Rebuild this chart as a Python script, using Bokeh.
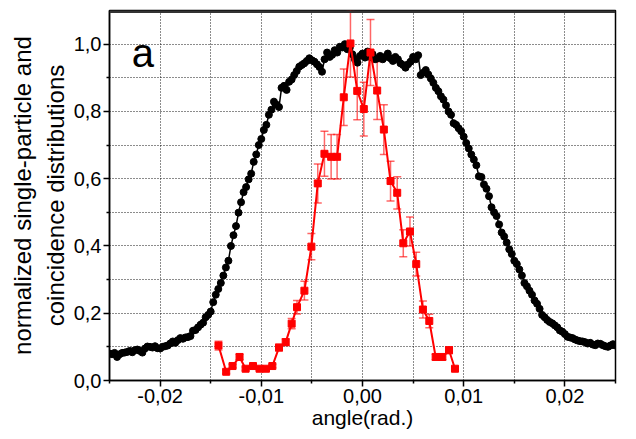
import numpy as np
from bokeh.plotting import figure
from bokeh.models import (Range1d, FixedTicker, CustomJSTickFormatter, Whisker,
                          TeeHead, ColumnDataSource, Label, Span)
from bokeh.embed import file_html
from bokeh.resources import INLINE

# ---- single-particle distribution (black), angle grid -0.025 .. 0.025 step 0.00025
single_y = [
    0.080, 0.078, 0.082, 0.070, 0.078, 0.082, 0.083, 0.085,
    0.088, 0.084, 0.090, 0.092, 0.088, 0.083, 0.095, 0.101,
    0.100, 0.098, 0.102, 0.096, 0.095, 0.100, 0.102, 0.104,
    0.110, 0.116, 0.112, 0.120, 0.126, 0.124, 0.128, 0.129,
    0.132, 0.148, 0.150, 0.158, 0.166, 0.172, 0.188, 0.195,
    0.205, 0.233, 0.255, 0.272, 0.290, 0.312, 0.336, 0.356,
    0.400, 0.432, 0.459, 0.499, 0.530, 0.560, 0.575, 0.598,
    0.615, 0.650, 0.672, 0.700, 0.718, 0.745, 0.760, 0.790,
    0.805, 0.829, 0.820, 0.813, 0.870, 0.876, 0.864, 0.888,
    0.895, 0.908, 0.920, 0.933, 0.938, 0.943, 0.950, 0.958,
    0.952, 0.948, 0.940, 0.932, 0.918, 0.955, 0.975, 0.962,
    0.968, 0.982, 0.975, 0.992, 0.990, 1.000, 0.985, 0.990,
    0.970, 0.955, 0.945, 0.965, 0.972, 0.960, 0.978, 0.962,
    0.970, 0.955, 0.958, 0.965, 0.955, 0.962, 0.972, 0.958,
    0.950, 0.962, 0.955, 0.943, 0.938, 0.930, 0.940, 0.948,
    0.962, 0.955, 0.967, 0.908, 0.915, 0.923, 0.910, 0.898,
    0.885, 0.870, 0.860, 0.845, 0.835, 0.818, 0.800, 0.790,
    0.765, 0.760, 0.750, 0.741, 0.725, 0.706, 0.690, 0.672,
    0.657, 0.640, 0.607, 0.605, 0.583, 0.570, 0.548, 0.515,
    0.500, 0.489, 0.464, 0.440, 0.428, 0.410, 0.390, 0.376,
    0.356, 0.346, 0.330, 0.312, 0.290, 0.280, 0.267, 0.255,
    0.238, 0.228, 0.213, 0.195, 0.188, 0.180, 0.174, 0.170,
    0.164, 0.158, 0.149, 0.145, 0.138, 0.130, 0.128, 0.126,
    0.122, 0.119, 0.117, 0.116, 0.114, 0.110, 0.112, 0.107,
    0.105, 0.110, 0.109, 0.105, 0.102, 0.100, 0.104, 0.108,
    0.104,
]
single_x = list(np.round(np.linspace(-0.025, 0.025, len(single_y)), 6))

# ---- coincidence distribution (red) with error bars
coinc_x = [-0.01423, -0.01347, -0.01284, -0.01215, -0.01155, -0.01082, -0.01017,
           -0.00954, -0.00891, -0.00825, -0.00759, -0.00700, -0.00647, -0.00574,
           -0.00505, -0.00442, -0.00376, -0.00310, -0.00251, -0.00185, -0.00119,
           -0.00052, 0.00013, 0.00079, 0.00145, 0.00211, 0.00277, 0.00343,
           0.00403, 0.00469, 0.00531, 0.00597, 0.00660, 0.00723, 0.00789,
           0.00855, 0.00914]
coinc_y = [0.104, 0.026, 0.043, 0.070, 0.035, 0.043, 0.035,
           0.035, 0.043, 0.098, 0.114, 0.169, 0.218, 0.267,
           0.398, 0.586, 0.674, 0.665, 0.665, 0.842, 1.002,
           0.861, 0.807, 0.975, 0.862, 0.746, 0.593, 0.558,
           0.408, 0.443, 0.346, 0.211, 0.177, 0.070, 0.070,
           0.090, 0.035]
coinc_err = [0.013, 0.005, 0.005, 0.008, 0.005, 0.005, 0.005,
             0.005, 0.005, 0.010, 0.010, 0.015, 0.020, 0.028,
             0.039, 0.058, 0.067, 0.066, 0.066, 0.084, 0.100,
             0.086, 0.080, 0.098, 0.086, 0.074, 0.059, 0.048,
             0.040, 0.043, 0.035, 0.025, 0.020, 0.008, 0.008,
             0.010, 0.006]

x_major = [-0.02, -0.01, 0.0, 0.01, 0.02]
x_minor = [-0.025, -0.015, -0.005, 0.005, 0.015, 0.025]
y_major = [0.0, 0.2, 0.4, 0.6, 0.8, 1.0]
y_minor = [0.1, 0.3, 0.5, 0.7, 0.9]
x_grid = [-0.025, -0.02, -0.015, -0.01, -0.005, 0.0, 0.005, 0.01, 0.015, 0.02, 0.025]
y_grid = [0.1, 0.2, 0.3, 0.4, 0.5, 0.6, 0.7, 0.8, 0.9, 1.0]

FONT = "Liberation Sans"

p = figure(width=628, height=431, output_backend="svg", toolbar_location=None,
           x_range=Range1d(-0.025, 0.025), y_range=Range1d(0.0, 1.1),
           min_border_left=109, min_border_right=13, min_border_top=10,
           min_border_bottom=10)
p.background_fill_color = "white"
p.border_fill_color = "white"
p.outline_line_color = "black"
p.outline_line_width = 1.5

# grids
p.xgrid.ticker = FixedTicker(ticks=x_grid)
p.ygrid.ticker = FixedTicker(ticks=y_grid)
for g in (p.xgrid, p.ygrid):
    g.grid_line_color = "black"
    g.grid_line_dash = "1 2"
    g.grid_line_width = 1
    g.grid_line_alpha = 0.9

# axes
p.xaxis.ticker = FixedTicker(ticks=x_major, minor_ticks=x_minor)
p.yaxis.ticker = FixedTicker(ticks=y_major, minor_ticks=y_minor)
p.xaxis.formatter = CustomJSTickFormatter(
    code="var s = tick.toFixed(2).replace('.', ','); return s == '-0,00' ? '0,00' : s;")
p.yaxis.formatter = CustomJSTickFormatter(
    code="return tick.toFixed(1).replace('.', ',');")
p.xaxis.axis_label = "angle(rad.)"
p.yaxis.axis_label = "normalized single-particle and\ncoincidence distributions"
for ax in (p.xaxis, p.yaxis):
    ax.axis_line_color = "black"
    ax.axis_line_width = 1.5
    ax.major_tick_line_color = "black"
    ax.minor_tick_line_color = "black"
    ax.major_tick_line_width = 1.5
    ax.minor_tick_line_width = 1.5
    ax.major_tick_in = 0
    ax.major_tick_out = 6
    ax.minor_tick_in = 0
    ax.minor_tick_out = 3
    ax.major_label_text_font = FONT
    ax.major_label_text_font_size = "20px"
    ax.major_label_text_color = "black"
    ax.axis_label_text_font = FONT
    ax.axis_label_text_color = "black"
    ax.axis_label_text_font_style = "normal"
p.xaxis.axis_label_text_font_size = "21px"
p.yaxis.axis_label_text_font_size = "24px"
p.xaxis.major_label_standoff = 2
p.xaxis.axis_label_standoff = 0
p.yaxis.major_label_standoff = 2
p.yaxis.axis_label_standoff = 2

# top frame line (thicker, dark)
p.add_layout(Span(location=1.1, dimension="width", line_color="#333333", line_width=5))

# single-particle (black)
p.line(single_x, single_y, line_color="black", line_width=1.5)
p.scatter(single_x, single_y, marker="circle", size=7, fill_color="black",
          line_color="black")

# coincidence (red) with error bars
src = ColumnDataSource(dict(
    x=coinc_x, y=coinc_y,
    upper=[v + e for v, e in zip(coinc_y, coinc_err)],
    lower=[v - e for v, e in zip(coinc_y, coinc_err)],
))
ERR_ALPHA = 0.6
p.add_layout(Whisker(base="x", upper="upper", lower="lower", source=src,
                     line_color="red", line_alpha=ERR_ALPHA, line_width=1.5,
                     upper_head=TeeHead(size=8, line_color="red", line_alpha=ERR_ALPHA, line_width=1.5),
                     lower_head=TeeHead(size=8, line_color="red", line_alpha=ERR_ALPHA, line_width=1.5)))
p.line("x", "y", source=src, line_color="red", line_width=2)
p.scatter("x", "y", source=src, marker="square", size=7, fill_color="red",
          line_color="red")

p.add_layout(Label(x=-0.0228, y=0.973, text="a", text_font=FONT,
                   text_font_size="40px", text_color="black",
                   text_baseline="alphabetic"))

open("out.html", "w").write(file_html(p, INLINE))
